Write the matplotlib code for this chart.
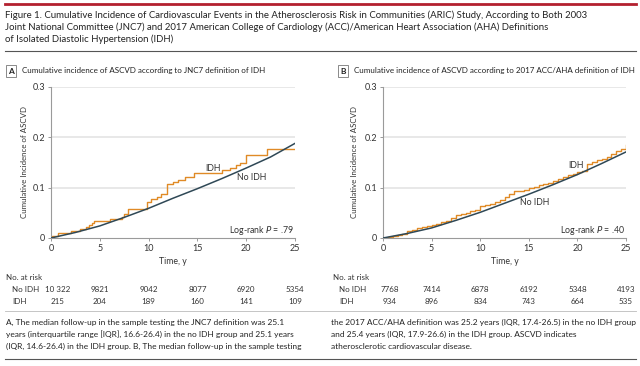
import matplotlib
matplotlib.use("Agg")
import matplotlib.pyplot as plt
from matplotlib.lines import Line2D

plt.rcParams['font.family'] = ['Lato', 'Liberation Sans', 'DejaVu Sans']

# ---------------- data ----------------
title_lines = [
    "Figure 1. Cumulative Incidence of Cardiovascular Events in the Atherosclerosis Risk in Communities (ARIC) Study, According to Both 2003",
    "Joint National Committee (JNC7) and 2017 American College of Cardiology (ACC)/American Heart Association (AHA) Definitions",
    "of Isolated Diastolic Hypertension (IDH)",
]
panel_titles = ["Cumulative incidence of ASCVD according to JNC7 definition of IDH",
                "Cumulative incidence of ASCVD according to 2017 ACC/AHA definition of IDH"]
panel_letters = ["A", "B"]
pvals = ["Log-rank $P$ = .79", "Log-rank $P$ = .40"]

xticks = [0, 5, 10, 15, 20, 25]
yticks = [0, 0.1, 0.2, 0.3]
ytick_labels = ["0", "0.1", "0.2", "0.3"]

# Panel A (JNC7)
a_idh_t = [0, 0.15, 0.75, 2.1, 3.0, 3.6, 3.9, 4.2, 4.45, 6.05, 7.25, 7.5, 7.9, 9.8, 10.2,
           10.84, 11.25, 11.93, 12.48, 13.06, 13.75, 14.7, 17.5, 18.35, 19.0, 19.4, 20.0, 22.1, 25.0]
a_idh_v = [0, 0.004, 0.009, 0.014, 0.018, 0.021, 0.025, 0.029, 0.034, 0.038, 0.042, 0.047, 0.0575, 0.072, 0.0767,
           0.082, 0.087, 0.107, 0.112, 0.116, 0.1215, 0.129, 0.135, 0.139, 0.145, 0.150, 0.1646, 0.176, 0.176]
a_noidh_t = [0, 2.5, 5, 7.5, 10, 12.5, 15, 17.5, 20, 22.5, 25]
a_noidh_v = [0, 0.011, 0.024, 0.041, 0.059, 0.079, 0.098, 0.118, 0.139, 0.161, 0.188]

# Panel B (2017 ACC/AHA)
b_idh_t = [0, 0.5, 1, 1.5, 2, 2.5, 3, 3.5, 4, 4.5, 5, 5.5, 6, 6.5, 7, 7.5, 8, 8.5, 9, 9.5,
           10, 10.5, 11, 11.5, 12, 12.5, 13, 13.5, 14, 14.5, 15, 15.5, 16, 16.5, 17, 17.5,
           18, 18.5, 19, 19.5, 20, 20.5, 21, 21.5, 22, 22.5, 23, 23.5, 24, 24.5, 25]
b_idh_v = [0, 0.002, 0.004, 0.006, 0.008, 0.013, 0.016, 0.020, 0.022, 0.023, 0.025, 0.028, 0.031,
           0.034, 0.040, 0.045, 0.047, 0.050, 0.053, 0.055, 0.063, 0.065, 0.067, 0.071, 0.076,
           0.082, 0.088, 0.093, 0.094, 0.096, 0.099, 0.102, 0.105, 0.108, 0.110, 0.113, 0.117,
           0.121, 0.126, 0.128, 0.131, 0.134, 0.148, 0.151, 0.154, 0.157, 0.161, 0.166, 0.172,
           0.176, 0.184]
b_noidh_t = [0, 2.5, 5, 7.5, 10, 12.5, 15, 17.5, 20, 22.5, 25]
b_noidh_v = [0, 0.009, 0.020, 0.035, 0.051, 0.069, 0.087, 0.106, 0.126, 0.148, 0.171]

risk_groups = ["No IDH", "IDH"]
a_risk_noidh = ["10 322", "9821", "9042", "8077", "6920", "5354"]
a_risk_idh = ["215", "204", "189", "160", "141", "109"]
b_risk_noidh = ["7768", "7414", "6878", "6192", "5348", "4193"]
b_risk_idh = ["934", "896", "834", "743", "664", "535"]

caption_left = [
    "A, The median follow-up in the sample testing the JNC7 definition was 25.1",
    "years (interquartile range [IQR], 16.6-26.4) in the no IDH group and 25.1 years",
    "(IQR, 14.6-26.4) in the IDH group. B, The median follow-up in the sample testing",
]
caption_right = [
    "the 2017 ACC/AHA definition was 25.2 years (IQR, 17.4-26.5) in the no IDH group",
    "and 25.4 years (IQR, 17.9-26.6) in the IDH group. ASCVD indicates",
    "atherosclerotic cardiovascular disease.",
]

# ---------------- layout ----------------
W, H = 640, 366
fig = plt.figure(figsize=(W / 100, H / 100), dpi=100)
renderer = fig.canvas.get_renderer()

def fx(px):
    return px / W

def fy(py):
    return 1 - py / H

def fit_size(artist, target_px):
    w = artist.get_window_extent(renderer).width
    return artist.get_fontsize() * target_px / w

ORANGE = '#E08A26'
DARK = '#2F4856'
TXT = '#333333'
GRID = '#E4E4E4'
SPINE = '#9A9A9A'

# header lines
fig.add_artist(Line2D([fx(5), fx(636)], [fy(4), fy(4)], color='#B3202F', lw=2.0))
fig.add_artist(Line2D([fx(5), fx(636)], [fy(51), fy(51)], color='#555555', lw=0.8))
ttl = [fig.text(fx(5), fy(15 + i * 12.0), line, fontsize=7.0, color='#222222', va='center', ha='left')
       for i, line in enumerate(title_lines)]
s = fit_size(ttl[0], 580)
for t in ttl:
    t.set_fontsize(s)

panels = [
    dict(left=51, right=295, idh=(a_idh_t, a_idh_v), no=(a_noidh_t, a_noidh_v),
         risk=(a_risk_noidh, a_risk_idh), idh_lab=(16.6, 0.138), no_lab=(20.6, 0.120),
         ylab_x=28, header_x=5, table_x=6),
    dict(left=383, right=626, idh=(b_idh_t, b_idh_v), no=(b_noidh_t, b_noidh_v),
         risk=(b_risk_noidh, b_risk_idh), idh_lab=(19.9, 0.145), no_lab=(15.6, 0.071),
         ylab_x=358, header_x=337, table_x=333),
]
top, bottom = 87, 238

header_size = None
for k, p in enumerate(panels):
    ax = fig.add_axes([fx(p['left']), fy(bottom), fx(p['right'] - p['left']), (bottom - top) / H])
    ax.set_xlim(0, 25)
    ax.set_ylim(0, 0.3)
    for yv in yticks[1:]:
        ax.axhline(yv, color=GRID, lw=1.2, zorder=0)
    ax.plot(p['no'][0], p['no'][1], color=DARK, lw=1.1, zorder=3)
    ax.plot(p['idh'][0], p['idh'][1], color=ORANGE, lw=1.0, drawstyle='steps-post', zorder=2)
    for sp in ['top', 'right']:
        ax.spines[sp].set_visible(False)
    for sp in ['left', 'bottom']:
        ax.spines[sp].set_color(SPINE)
        ax.spines[sp].set_linewidth(0.8)
    ax.set_xticks(xticks)
    ax.set_xticklabels([str(v) for v in xticks])
    ax.set_yticks(yticks)
    ax.set_yticklabels(ytick_labels)
    ax.tick_params(axis='both', length=2.5, width=0.7, color=SPINE, labelsize=6.5,
                   labelcolor=TXT, pad=1.5)
    yl = ax.set_ylabel("Cumulative Incidence of ASCVD", fontsize=6.5, color=TXT)
    ax.yaxis.set_label_coords((p['ylab_x'] - p['left']) / (p['right'] - p['left']), 0.5)
    yl.set_fontsize(yl.get_fontsize() * 111 / yl.get_window_extent(renderer).height)
    ax.text(*p['idh_lab'], "IDH", fontsize=6.3, color=TXT, ha='center', va='center')
    ax.text(*p['no_lab'], "No IDH", fontsize=6.3, color=TXT, ha='center', va='center')
    ax.text(24.9, 0.014, pvals[k], fontsize=6.3, color=TXT, ha='right', va='center')

    # header
    fig.text(fx(p['header_x'] + 6), fy(71), panel_letters[k], fontsize=6.0, color='#222222',
             ha='center', va='center', fontweight='bold',
             bbox=dict(boxstyle='square,pad=0.3', fc='white', ec='#777777', lw=0.6))
    ht = fig.text(fx(p['header_x'] + 17), fy(71), panel_titles[k], fontsize=6.6, color='#222222',
                  ha='left', va='center')
    if header_size is None:
        header_size = fit_size(ht, 240)
    ht.set_fontsize(header_size)

    # x label
    fig.text(fx((p['left'] + p['right']) / 2), fy(262), "Time, y", fontsize=6.3, color=TXT,
             ha='center', va='center')

    # at risk table
    fig.text(fx(p['table_x']), fy(278), "No. at risk", fontsize=5.8, color=TXT, ha='left', va='center')
    for r, (grp, vals) in enumerate(zip(risk_groups, p['risk'])):
        yy = fy(290 + r * 11.5)
        fig.text(fx(p['table_x'] + 6), yy, grp, fontsize=5.8, color=TXT, ha='left', va='center')
        for j, (t, v) in enumerate(zip(xticks, vals)):
            xpx = p['left'] + (p['right'] - p['left']) * t / 25 + (7 if j == 0 else 0)
            fig.text(fx(xpx), yy, v, fontsize=5.8, color=TXT, ha='center', va='center')

# caption
fig.add_artist(Line2D([fx(5), fx(636)], [fy(311), fy(311)], color='#BBBBBB', lw=0.6))
cl = [fig.text(fx(6), fy(322 + i * 12.3), line, fontsize=6.5, color='#222222', ha='left', va='center')
      for i, line in enumerate(caption_left)]
cs = fit_size(cl[2], 294)
for t in cl:
    t.set_fontsize(cs)
for i, line in enumerate(caption_right):
    fig.text(fx(331), fy(322 + i * 12.3), line, fontsize=cs, color='#222222', ha='left', va='center')
fig.add_artist(Line2D([fx(5), fx(636)], [fy(359), fy(359)], color='#555555', lw=0.8))

fig.savefig("out.png", dpi=100)
